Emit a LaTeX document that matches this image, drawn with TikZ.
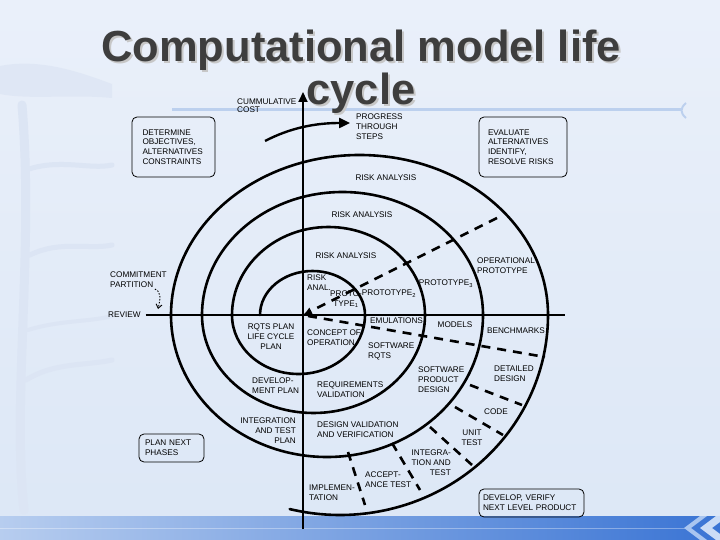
\documentclass[tikz,border=0pt]{standalone}
\usepackage{fontspec}
\setmainfont{Liberation Sans}
\usetikzlibrary{arrows.meta,calc}
\newcommand{\tagfont}{\fontsize{8.2}{9.8}\selectfont}
\newcommand{\headfont}{\fontsize{43.5}{45}\selectfont\bfseries}

\begin{document}
\begin{tikzpicture}[
  x=1pt,
  y=-1pt,
  >=Latex,
  spiral/.style={line width=2.6pt, line cap=round},
  axis/.style={line width=1.8pt},
  phase/.style={line width=2.6pt, dash pattern=on 9pt off 7pt},
  tag/.style={font=\tagfont, inner sep=0pt, align=left},
  panel/.style={draw, rounded corners=5pt, line width=0.8pt, font=\tagfont,
                align=left, inner sep=0pt},
  tree/.style={draw=treeblue, line cap=round}
]
\definecolor{slidetop}{HTML}{EAF0FA}
\definecolor{slidebot}{HTML}{DCE7F6}
\definecolor{treeblue}{HTML}{DCE5F4}
\definecolor{ruleblue}{HTML}{BCD0EE}
\definecolor{bandleft}{HTML}{B7CDEF}
\definecolor{bandright}{HTML}{3A74D4}
\definecolor{chevron}{HTML}{A9C5F0}
\definecolor{titlegray}{HTML}{3E3E3E}

\useasboundingbox (0,0) rectangle (720,540);

% Slide background, faint tree and title rule.
\fill[top color=slidetop, bottom color=slidebot] (0,0) rectangle (720,540);
\draw[tree, line width=9pt] (24,510) .. controls (12,400) and (34,250) .. (22,105);
\draw[tree, line width=5pt] (26,170) .. controls (60,158) and (90,170) .. (112,165);
\draw[tree, line width=5pt] (30,255) .. controls (60,240) and (90,250) .. (112,245);
\draw[tree, line width=4pt] (28,330) .. controls (60,320) and (90,322) .. (112,316);
\draw[tree, line width=5pt] (26,380) .. controls (55,362) and (85,366) .. (112,360);
\fill[treeblue, opacity=0.7] (0,66) .. controls (40,58) and (80,72) .. (112,84) -- (112,98)
  .. controls (70,94) and (30,100) .. (0,94) -- cycle;
\draw[ruleblue, line width=3pt] (172,110) -- (682,110);
\draw[ruleblue, line width=2pt] (686,103) .. controls (680,108) and (680,113) .. (686,118);

% Footer band with its chevrons.
\fill[left color=bandleft, right color=bandright] (0,516) rectangle (720,540);
\draw[white, opacity=0.35, line width=1pt] (0,528) -- (688,528);
\fill[chevron] (700,516) -- (684,528) -- (700,540) -- (707,540) -- (691,528) -- (707,516) -- cycle;
\fill[chevron!60] (716,516) -- (700,528) -- (716,540) -- (720,540) -- (720,534) -- (712,528) -- (720,522) -- (720,516) -- cycle;

% The spiral: half turns about shifting centres on the review axis.
\draw[spiral] (260,315)
  arc[start angle=180, end angle=360, x radius=52.5, y radius=44]
  arc[start angle=0, end angle=180, x radius=66.5, y radius=59]
  arc[start angle=180, end angle=360, x radius=96.5, y radius=88]
  arc[start angle=0, end angle=180, x radius=111.5, y radius=98]
  arc[start angle=180, end angle=360, x radius=140.5, y radius=123]
  arc[start angle=0, end angle=180, x radius=156, y radius=142]
  arc[start angle=180, end angle=360, x radius=188.5, y radius=160]
  arc[start angle=0, end angle=104, x radius=208, y radius=200];

% Cost and progress axes.
\coordinate (hub)      at (303,315);
\coordinate (costfoot) at (303,529);
\coordinate (costtip)  at (303,92);
\coordinate (axisend)  at (565,315);
\coordinate (stepfrom) at (265,141);
\coordinate (stepto)   at (350,123);
\draw[axis, -{Triangle[length=10pt,width=9pt]}] (costfoot) -- (costtip);
\draw[line width=2.4pt, -{Triangle[length=11pt,width=10pt]}]
  (stepfrom) .. controls (290,128) and (315,123) .. (stepto);

% Dashed cuts between the phases.
\coordinate (riskout) at (497,218);
\coordinate (emulin)  at (308,316);
\coordinate (emulout) at (545,357);
\coordinate (detin)   at (470,385);
\coordinate (detout)  at (522,405);
\coordinate (codein)  at (455,407);
\coordinate (codeout) at (503,435);
\coordinate (unitin)  at (430,427);
\coordinate (unitout) at (472,465);
\coordinate (intin)   at (392,443);
\coordinate (intout)  at (420,490);
\coordinate (accin)   at (348,452);
\coordinate (accout)  at (365,505);
\draw[phase, -{Latex[length=9pt,width=8pt]}] (riskout) -- (hub);
\draw[phase] (emulin) -- (emulout);
\draw[phase] (detin) -- (detout);
\draw[phase] (codein) -- (codeout);
\draw[phase] (unitin) -- (unitout);
\draw[phase] (intin) -- (intout);
\draw[phase] (accin) -- (accout);

% Quadrant boxes.
\node[panel, minimum width=83pt, minimum height=60pt, text width=62pt] (determine)
  at (173.5,147) {DETERMINE\\OBJECTIVES,\\ALTERNATIVES\\CONSTRAINTS};
\node[panel, minimum width=88pt, minimum height=60pt, text width=70pt] (evaluate)
  at (523,147) {EVALUATE\\ALTERNATIVES\\IDENTIFY,\\RESOLVE RISKS};
\node[panel, minimum width=65pt, minimum height=28pt, text width=53pt] (plannext)
  at (171.5,448) {PLAN NEXT\\PHASES};
\node[panel, minimum width=105pt, minimum height=28pt, text width=97pt] (develop)
  at (531.5,503) {DEVELOP, VERIFY\\NEXT LEVEL PRODUCT};

% Review line and commitment arrow.
\node[tag, anchor=west] (review) at (108,315) {REVIEW};
\node[tag, anchor=north west] (commit) at (110,272) {COMMITMENT\\PARTITION};
\draw[axis] ([xshift=5pt]review.east) -- (axisend);
\coordinate (commitfoot) at (158,309);
\draw[line width=0.9pt, dash pattern=on 1.5pt off 1.5pt, -{Straight Barb[length=4pt,width=6pt]}]
  ([xshift=-12pt,yshift=-1pt]commit.south east) .. controls (162,292) and (160,300) .. (commitfoot);

% Axis captions.
\node[tag, anchor=north west] (cost) at (237,99) {CUMMULATIVE\\[-2pt]COST};
\node[tag, anchor=north west] (progress) at (356,114) {PROGRESS\\THROUGH\\STEPS};

% Phase labels, outer turns first.
\node[tag, anchor=north] (risk4) at (386,175) {RISK ANALYSIS};
\node[tag, anchor=north] (risk3) at (362,212) {RISK ANALYSIS};
\node[tag, anchor=north] (risk2) at (346,253) {RISK ANALYSIS};
\node[tag, anchor=north west] (risk1) at (307,275) {RISK\\ANAL.};
\node[tag, anchor=north, align=center] (proto1) at (346,291) {PROTO-\\TYPE\textsubscript{1}};
\node[tag, anchor=north] (proto2) at (389,290) {PROTOTYPE\textsubscript{2}};
\node[tag, anchor=north] (proto3) at (446,280) {PROTOTYPE\textsubscript{3}};
\node[tag, anchor=north west] (opproto) at (477,258) {OPERATIONAL\\PROTOTYPE};
\node[tag, anchor=north, align=center] (rqtsplan) at (271,324) {RQTS PLAN\\LIFE CYCLE\\PLAN};
\node[tag, anchor=north west] (concept) at (307,330) {CONCEPT OF\\OPERATION};
\node[tag, anchor=north west] (emul) at (370,318) {EMULATIONS};
\node[tag, anchor=north west] (swrqts) at (368,343) {SOFTWARE\\RQTS};
\node[tag, anchor=north] (models) at (455,322) {MODELS};
\node[tag, anchor=north] (bench) at (516,328) {BENCHMARKS};
\node[tag, anchor=north west] (reqval) at (317,382) {REQUIREMENTS\\VALIDATION};
\node[tag, anchor=north west] (prodesign) at (418,367) {SOFTWARE\\PRODUCT\\DESIGN};
\node[tag, anchor=north west] (detdesign) at (494,366) {DETAILED\\DESIGN};
\node[tag, anchor=north] (code) at (496,409) {CODE};
\node[tag, anchor=north west] (devplan) at (252,378) {DEVELOP-\\MENT PLAN};
\node[tag, anchor=north east, align=right] (itplan) at (296,418) {INTEGRATION\\AND TEST\\PLAN};
\node[tag, anchor=north west] (desval) at (317,422) {DESIGN VALIDATION\\AND VERIFICATION};
\node[tag, anchor=north west] (accept) at (365,472) {ACCEPT-\\ANCE TEST};
\node[tag, anchor=north west] (implement) at (309,485) {IMPLEMEN-\\TATION};
\node[tag, anchor=north east, align=right] (inttest) at (451,450) {INTEGRA-\\TION AND\\TEST};
\node[tag, anchor=north, align=center] (unittest) at (472,430) {UNIT\\TEST};

% Slide title with its soft shadow.
\node[font=\headfont, text=black!22, anchor=base] at (363,64) {Computational model life};
\node[font=\headfont, text=black!22, anchor=base] at (363,107) {cycle};
\node[font=\headfont, text=titlegray, anchor=base] (title) at (361,62) {Computational model life};
\node[font=\headfont, text=titlegray, anchor=base] (titlecycle) at (361,105) {cycle};
\end{tikzpicture}
\end{document}
